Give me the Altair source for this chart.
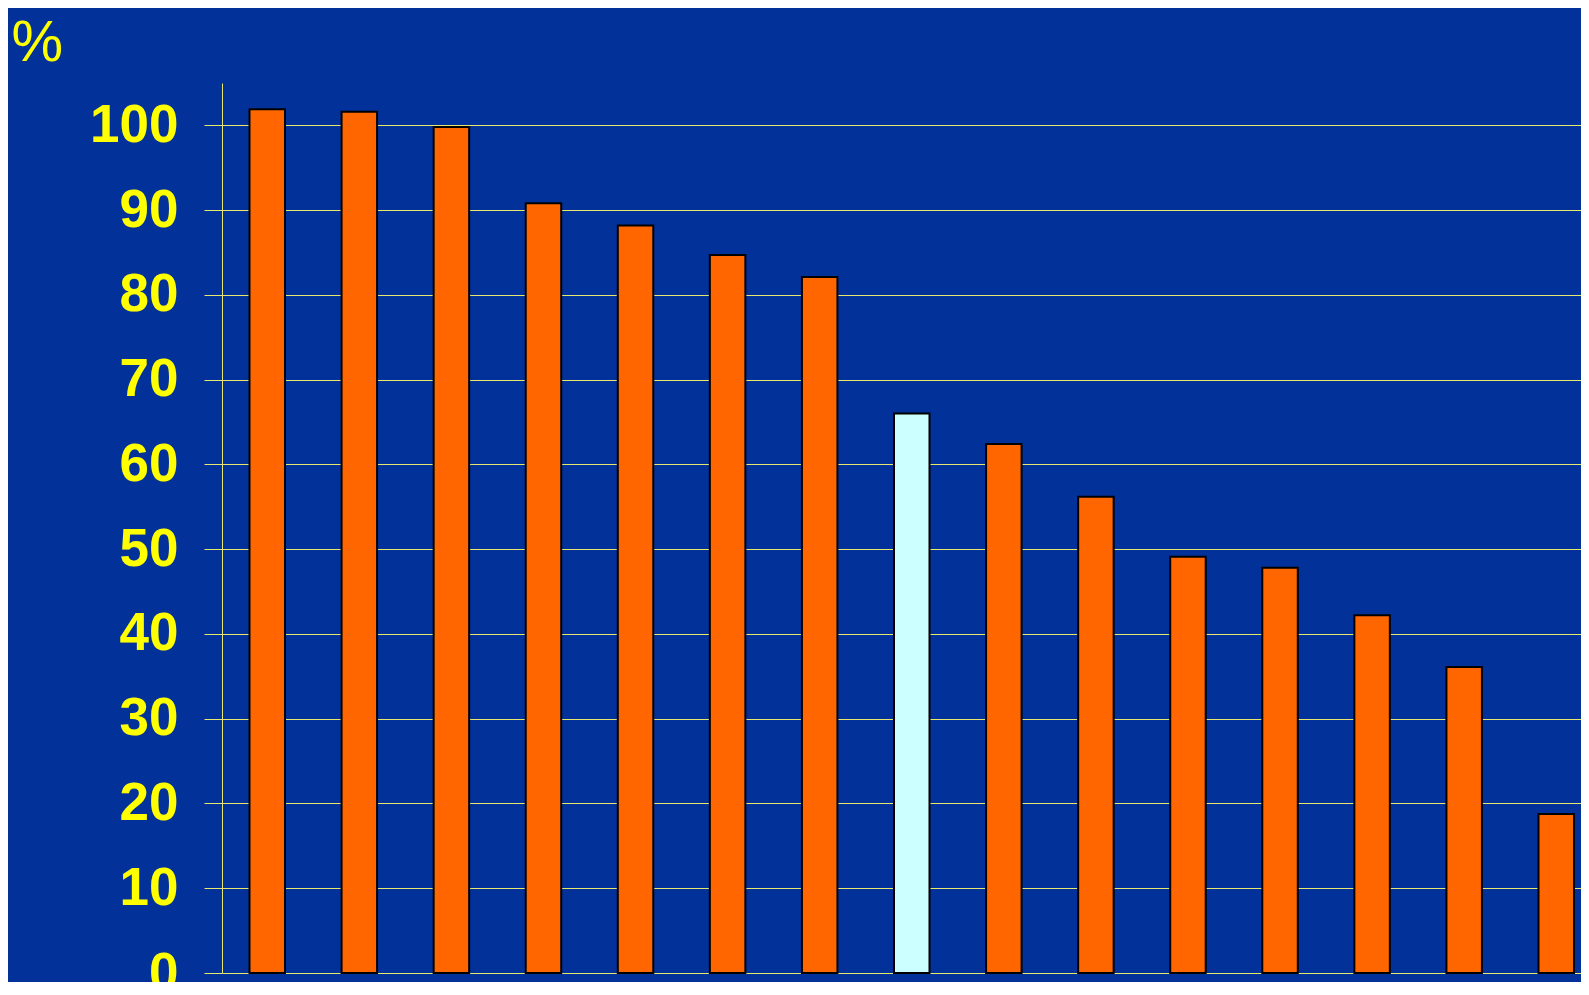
import altair as alt
import pandas as pd

categories = [f"C{i}" for i in range(1, 16)]
values = [101.9, 101.6, 99.8, 90.8, 88.2, 84.7, 82.1, 66.0, 62.4, 56.2, 49.1, 47.8, 42.2, 36.1, 18.75]
highlighted = ["C8"]
y_ticks = [0, 10, 20, 30, 40, 50, 60, 70, 80, 90, 100]

df = pd.DataFrame({
    "cat": categories,
    "value": values,
    "hl": [c in highlighted for c in categories],
})

BG = "#03319A"
GRID = "#E8E870"
YELLOW = "#FFFF00"

bars = alt.Chart(df).mark_bar(stroke="#000000", strokeWidth=2).encode(
    x=alt.X(
        "cat:N",
        sort=categories,
        scale=alt.Scale(paddingInner=0.6145, paddingOuter=0.1874, align=0.797),
        axis=alt.Axis(labels=False, ticks=False, domain=False, title=None, grid=False),
    ),
    y=alt.Y(
        "value:Q",
        scale=alt.Scale(domain=[0, 105], nice=False, zero=True),
        axis=alt.Axis(
            values=y_ticks,
            title="%",
            titleAngle=0,
            titleAlign="left",
            titleBaseline="alphabetic",
            titleX=-211,
            titleY=-23,
            titleFont="Liberation Sans",
            titleFontSize=58,
            titleFontWeight="normal",
            titleColor=YELLOW,
            labelFont="Liberation Sans",
            labelFontSize=53,
            labelFontWeight="bold",
            labelColor=YELLOW,
            labelPadding=26,
            labelBaseline="middle",
            labelFlush=False,
            labelOverlap=False,
            tickSize=18,
            tickColor=GRID,
            tickWidth=1,
            domainColor=GRID,
            domainWidth=1,
            grid=True,
            gridColor=GRID,
            gridWidth=1,
        ),
    ),
    color=alt.condition("datum.hl", alt.value("#CCFFFF"), alt.value("#FF6600")),
)

chart = bars.properties(
    width=1359,
    height=890,
    background=BG,
    padding={"left": 214, "top": 75, "right": 0, "bottom": 9},
    autosize=alt.AutoSizeParams(type="none"),
).configure_view(stroke=None, fill=BG)

chart.save("out.html", embed_options={"renderer": "svg", "actions": False})
